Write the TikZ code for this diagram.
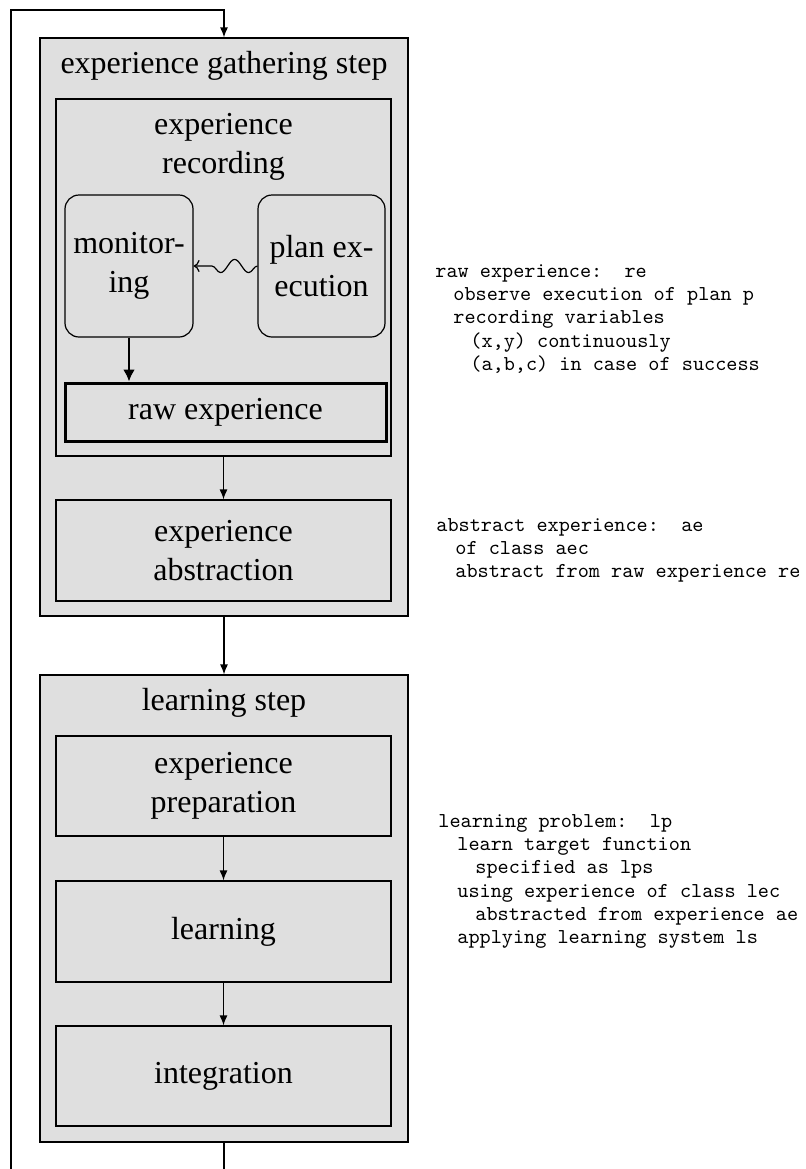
\documentclass[tikz,border=0pt]{standalone}
\usepackage{fontspec}
\setmainfont{Liberation Serif}
\usetikzlibrary{arrows.meta,decorations.pathmorphing}
\definecolor{boxgray}{RGB}{223,223,223}
\begin{document}
\begin{tikzpicture}[x=0.5pt,y=-0.5pt,
  box/.style={draw, fill=boxgray, line width=0.6pt, inner sep=0pt},
  lbl/.style={font=\fontsize{16}{19.5}\selectfont, align=center, inner sep=0pt},
  mono/.style={font=\ttfamily\fontsize{10.6}{11.7}\selectfont, anchor=base west, inner sep=0pt},
  conn/.style={line width=0.6pt, -{Latex[length=5pt,width=4pt]}},
  thickconn/.style={line width=1.3pt, -{Latex[length=6pt,width=6pt]}},
  wavy/.style={line width=0.6pt, -{To[length=3pt,width=6pt]}, decorate,
    decoration={snake, amplitude=3.3pt, segment length=14pt, pre length=0pt, post length=3pt}}
]
\useasboundingbox (0,0) rectangle (806,1169);

% outer boxes
\node[box, minimum width=184pt, minimum height=289pt] (outer1) at (224,327) {};
\node[lbl] (t1) at (224,66) {experience gathering step};
\node[box, minimum width=167.5pt, minimum height=178.5pt] (rec) at (223.5,277.5) {};
\node[lbl] (trec) at (223.5,147) {experience\\recording};
\node[box, rounded corners=7pt, minimum width=64pt, minimum height=71pt, lbl] (mon) at (129,266) {monitor-\\ing};
\node[box, rounded corners=7pt, minimum width=63.5pt, minimum height=71pt, lbl] (plan) at (321.5,266) {plan ex-\\ecution};
\node[box, line width=1.5pt, minimum width=160.5pt, minimum height=29pt, lbl] (raw) at (225.5,412) {raw experience};
\node[box, minimum width=167.5pt, minimum height=50.5pt, lbl] (abs) at (223.5,550.5) {experience\\abstraction};

\node[box, minimum width=184pt, minimum height=233.5pt] (outer2) at (224,908.5) {};
\node[lbl] (t2) at (224,703) {learning step};
\node[box, minimum width=167.5pt, minimum height=50pt, lbl] (prep) at (223.5,786) {experience\\preparation};
\node[box, minimum width=167.5pt, minimum height=50.5pt, lbl] (learn) at (223.5,931.5) {learning};
\node[box, minimum width=167.5pt, minimum height=50pt, lbl] (integ) at (223.5,1076) {integration};

% connectors
\draw[wavy] (plan.west) -- (mon.east);
\draw[thickconn] (mon.south) -- (mon.south |- raw.north);
\draw[conn] (rec.south) -- (abs.north);
\draw[conn] (outer1.south) -- (outer2.north);
\draw[conn] (prep.south) -- (learn.north);
\draw[conn] (learn.south) -- (integ.north);

\coordinate (top) at (224,10);
\coordinate (tl) at (11,10);
\coordinate (bl) at (11,1169);
\coordinate (bot) at (224,1169);
\draw[conn] (bl) -- (tl) -- (top) -- (outer1.north);
\draw[line width=0.6pt] (outer2.south) -- (bot);

% right texts
\node[mono] (r1) at (435,277) {raw experience:\ \ re};
\node[mono] (r2) at (453,300.3) {observe execution of plan p};
\node[mono] (r3) at (453,323.6) {recording variables};
\node[mono] (r4) at (470,347) {(x,y) continuously};
\node[mono] (r5) at (470,370.2) {(a,b,c) in case of success};

\node[mono] (a1) at (436,531) {abstract experience:\ \ ae};
\node[mono] (a2) at (455,554.3) {of class aec};
\node[mono] (a3) at (455,577.6) {abstract from raw experience re};

\node[mono] (l1) at (438,827) {learning problem:\ \ lp};
\node[mono] (l2) at (457,850.3) {learn target function};
\node[mono] (l3) at (475,873.6) {specified as lps};
\node[mono] (l4) at (457,897) {using experience of class lec};
\node[mono] (l5) at (475,920.2) {abstracted from experience ae};
\node[mono] (l6) at (457,943.5) {applying learning system ls};
\end{tikzpicture}
\end{document}
